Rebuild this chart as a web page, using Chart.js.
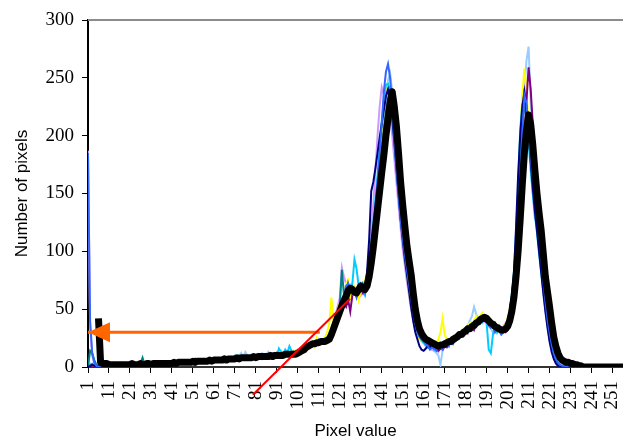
<!DOCTYPE html>
<html lang="en">
<head>
  <meta charset="UTF-8" />
  <title>Pixel value histogram</title>
  <style>
    body { margin:0; background:#fff; }
    #wrap { width:623px; height:446px; }
  </style>
  <script src="https://cdn.jsdelivr.net/npm/chart.js"></script>
</head>
<body>
  <div id="wrap"><canvas id="histChart" width="623" height="446"></canvas></div>

  <script>
    // pixel values 1..256 (categories)
    const pixelValues = Array.from({length: 256}, (_, i) => i + 1);
    const xTickLabels = [1,11,21,31,41,51,61,71,81,91,101,111,121,131,141,151,161,171,181,191,201,211,221,231,241,251];
    const yTickValues = [0,50,100,150,200,250,300];

    // average histogram (thick black)
    const average = [
      null,null,null,null,null,42,4,3,3,3,2,2,2,2,2,2,
      2,2,2,2,2,3,2,2,2,3,2,2,3,3,2,3,
      3,3,3,3,3,3,3,3,3,4,3,4,4,4,4,4,
      4,4,5,4,5,5,5,5,5,5,6,5,6,6,6,6,
      6,7,6,7,7,7,7,8,7,8,8,8,8,8,8,9,
      8,9,9,9,9,9,9,10,9,10,10,10,10,10,11,11,
      11,11,11,11,12,13,14,15,17,18,19,20,20,21,21,22,
      22,22,23,24,28,33,38,43,48,53,57,61,66,68,67,65,
      64,67,70,68,67,70,78,90,104,120,136,152,168,183,200,215,
      228,238,225,208,185,160,140,122,105,92,80,64,50,40,33,29,
      26,24,23,22,21,20,19,18,19,19,20,21,22,22,24,25,
      26,28,28,30,31,33,33,35,36,38,39,41,42,43,42,40,
      38,37,35,34,33,32,32,33,35,40,48,60,78,100,128,158,
      185,205,218,210,192,170,150,133,118,98,78,65,52,38,26,18,
      12,8,6,5,4,4,3,3,2,2,1,1,0,0,0,0,
      0,0,0,0,0,0,0,0,0,0,0,0,0,0,0,0
    ];

    // individual images
    const imgBlue = [
      185,40,12,4,1,0,1,2,2,3,2,2,1,2,3,2,
      2,1,2,3,2,2,3,2,1,2,3,2,2,3,3,2,
      3,2,3,4,3,2,3,3,4,3,4,5,3,4,4,3,
      4,5,4,5,6,4,5,4,6,5,6,4,7,6,5,7,
      6,8,5,7,8,6,7,9,6,8,7,9,8,7,9,8,
      9,8,10,7,9,10,8,11,9,10,12,9,8,11,10,13,
      12,10,13,11,14,12,15,16,15,19,18,21,19,22,20,23,
      21,24,22,25,30,36,40,47,52,58,62,70,72,66,63,67,
      60,66,72,69,64,74,85,100,118,140,160,185,210,238,255,262,
      250,225,200,175,150,128,112,98,85,72,60,48,38,30,26,24,
      22,20,18,15,17,16,14,18,17,15,19,21,18,23,20,24,
      26,25,29,27,32,30,34,33,37,35,40,38,44,41,39,36,
      34,36,30,33,31,28,30,35,38,45,55,72,95,125,160,200,
      235,228,205,180,165,155,140,118,95,75,58,42,30,20,12,7,
      4,2,1,1,0,0,0,0,0,0,0,0,0,0,0,0,
      0,0,0,0,0,0,0,0,0,0,0,0,0,0,0,0
    ];
    const imgPaleBlue = [
      0,3,2,1,1,0,2,1,2,2,3,1,2,2,1,3,
      2,2,3,1,2,3,2,3,2,2,1,3,2,2,4,3,
      2,3,4,3,2,4,3,4,3,5,4,3,4,5,4,5,
      3,5,6,5,4,6,5,7,5,6,5,7,6,8,7,6,
      7,6,8,7,9,8,10,7,9,12,8,13,10,9,11,10,
      9,11,10,12,9,11,13,10,12,11,13,12,14,11,13,12,
      10,13,12,14,13,16,15,18,17,20,19,18,22,20,24,21,
      23,22,26,25,29,34,41,46,50,56,64,68,65,70,62,68,
      66,70,64,72,68,73,80,95,112,130,150,172,195,215,232,248,
      254,238,215,190,160,135,118,100,88,76,62,50,40,32,27,25,
      23,21,19,17,15,14,12,10,2,14,17,19,22,20,25,24,
      27,29,31,28,34,36,40,44,52,46,42,40,38,43,39,35,
      33,30,34,31,35,29,32,36,40,44,56,70,92,122,160,205,
      240,265,277,230,195,165,140,120,98,78,60,44,30,19,11,6,
      3,2,1,0,0,0,0,0,0,0,0,0,0,0,0,0,
      0,0,0,0,0,0,0,0,0,0,0,0,0,0,0,0
    ];
    const imgYellow = [
      0,1,1,0,1,1,2,3,1,2,2,3,2,1,2,3,
      3,2,2,1,3,2,2,3,2,1,2,2,3,2,3,3,
      2,4,3,3,2,3,4,3,3,4,5,3,4,3,5,4,
      5,4,4,6,5,5,4,6,6,5,7,6,5,7,6,7,
      5,8,7,6,8,7,9,8,9,7,10,8,9,10,8,9,
      10,9,8,10,11,9,10,12,8,11,10,14,11,12,10,12,
      13,12,14,12,15,14,16,14,18,17,20,22,18,25,20,23,
      24,26,30,38,60,40,42,50,55,58,60,72,75,60,66,70,
      68,58,66,70,75,72,88,105,122,140,160,180,205,225,240,245,
      240,230,212,188,165,140,118,96,80,66,54,44,32,28,24,22,
      20,22,18,19,16,18,20,24,30,42,28,24,22,20,26,25,
      28,27,30,33,31,36,38,37,40,44,41,45,47,42,40,38,
      36,33,35,30,32,31,34,37,42,50,60,78,110,150,200,235,
      258,240,210,185,160,140,122,104,88,70,54,40,27,17,10,5,
      3,1,0,0,0,0,0,0,0,0,0,0,0,0,0,0,
      0,0,0,0,0,0,0,0,0,0,0,0,0,0,0,0
    ];
    const imgPurple = [
      0,0,1,1,0,1,2,1,2,2,1,3,2,2,2,1,
      2,3,2,2,1,2,3,2,2,3,2,2,2,3,2,2,
      3,3,2,3,4,3,3,2,4,3,3,4,4,5,3,4,
      4,4,5,4,5,6,5,5,4,6,5,6,6,5,7,6,
      6,7,6,8,6,7,8,7,8,7,9,7,8,9,8,9,
      8,10,9,8,10,9,11,9,10,11,9,10,12,10,11,10,
      11,12,10,12,11,13,14,16,16,17,18,19,21,20,23,21,
      22,21,24,23,26,30,36,42,46,50,55,52,58,48,62,64,
      62,65,68,64,70,68,76,88,102,118,134,150,166,182,198,214,
      225,236,230,215,190,170,148,128,110,94,80,66,52,40,32,26,
      24,22,20,18,17,16,15,14,16,15,18,17,20,21,23,22,
      24,26,27,29,31,33,36,35,32,37,38,41,40,42,41,39,
      37,36,38,34,35,33,31,30,32,36,44,56,72,95,125,160,
      195,230,259,240,210,185,160,138,120,100,82,66,50,36,24,16,
      10,6,4,2,1,0,0,0,0,0,0,0,0,0,0,0,
      0,0,0,0,0,0,0,0,0,0,0,0,0,0,0,0
    ];
    const imgLavender = [
      187,35,10,3,1,1,2,2,3,2,2,1,2,3,2,2,
      4,2,3,2,2,3,2,2,3,2,2,3,2,2,3,2,
      3,2,3,3,4,3,2,3,4,3,4,4,3,4,5,6,
      4,5,4,5,5,6,4,5,6,5,6,7,5,6,7,6,
      7,6,8,6,7,8,7,9,8,7,9,8,10,8,9,8,
      9,10,8,9,11,10,9,12,10,11,10,12,9,11,12,11,
      12,11,13,12,14,13,16,15,17,19,18,20,21,19,22,24,
      23,25,24,27,32,38,45,52,60,86,78,72,68,66,70,64,
      68,66,62,67,70,76,95,118,142,170,200,225,242,236,230,225,
      215,200,180,160,140,120,102,88,74,62,50,40,32,27,24,22,
      20,18,17,16,15,14,16,13,17,15,18,20,19,22,21,24,
      25,27,26,30,32,29,35,34,36,38,37,40,42,39,38,36,
      35,37,33,34,36,32,35,38,40,46,58,74,98,130,170,215,
      245,230,200,175,150,128,125,110,92,74,57,42,28,17,10,5,
      2,1,0,0,0,0,0,0,0,0,0,0,0,0,0,0,
      0,0,0,0,0,0,0,0,0,0,0,0,0,0,0,0
    ];
    const imgTeal = [
      0,14,12,6,2,1,2,2,1,2,3,2,2,1,2,2,
      3,2,2,2,3,2,2,3,2,3,8,2,3,2,2,3,
      3,2,3,2,4,3,3,4,2,3,4,3,4,4,3,4,
      5,4,4,5,4,5,6,5,5,6,5,6,7,6,5,7,
      6,7,7,8,6,8,7,8,7,9,8,8,9,8,10,9,
      9,8,10,9,10,11,9,10,11,10,9,12,11,10,12,11,
      12,11,12,13,14,13,15,16,18,17,20,19,22,21,23,22,
      24,23,25,24,29,34,39,45,52,84,62,58,72,66,70,68,
      66,70,67,72,68,74,82,98,115,132,150,168,186,204,220,232,
      240,228,210,188,162,140,120,104,90,78,64,52,41,34,28,25,
      23,20,18,19,17,16,18,17,16,18,19,20,22,21,23,24,
      25,27,28,30,30,32,33,35,37,36,40,42,43,41,40,38,
      36,34,35,33,32,30,33,35,38,48,62,75,102,135,175,212,
      227,215,200,180,160,140,122,104,86,70,54,40,28,18,11,6,
      3,1,0,0,0,0,0,0,0,0,0,0,0,0,0,0,
      0,0,0,0,0,0,0,0,0,0,0,0,0,0,0,0
    ];
    const imgSky = [
      0,2,3,2,1,1,2,1,2,3,2,2,1,2,2,3,
      2,2,3,2,2,2,3,2,2,2,3,2,3,2,2,3,
      3,3,2,4,3,3,3,4,3,3,4,4,3,5,4,4,
      4,5,5,4,6,5,5,6,5,5,6,6,7,6,6,5,
      7,6,7,8,7,7,8,7,10,8,8,9,8,9,10,8,
      9,9,10,8,10,9,11,9,10,12,10,16,13,11,15,12,
      18,14,12,13,15,14,16,17,16,18,21,20,19,22,23,24,
      22,24,23,26,28,34,40,44,50,55,60,63,68,70,72,93,
      85,70,72,66,62,75,90,108,125,145,165,190,212,230,244,245,
      235,215,195,172,150,130,112,96,82,68,56,46,36,30,26,23,
      21,19,17,16,18,15,17,16,18,17,19,22,20,24,22,25,
      27,26,30,29,32,35,33,38,36,40,38,41,39,41,38,15,
      12,28,36,30,34,32,31,34,40,48,62,82,115,155,205,227,
      230,218,195,170,150,132,116,98,82,66,50,36,24,15,9,5,
      2,1,0,0,0,0,0,0,0,0,0,0,0,0,0,0,
      0,0,0,0,0,0,0,0,0,0,0,0,0,0,0,0
    ];
    const imgNavy = [
      0,1,2,1,1,0,1,2,2,1,2,2,3,2,1,2,
      2,3,2,2,2,1,3,2,2,2,2,3,2,2,3,2,
      2,3,3,3,2,4,3,3,3,4,3,4,4,3,4,4,
      4,3,5,7,4,5,6,5,4,5,6,5,6,5,6,7,
      6,6,7,6,8,7,6,8,7,8,7,9,8,9,7,10,
      8,9,10,9,8,10,9,10,9,11,10,9,11,10,12,11,
      10,12,11,12,13,14,13,15,17,16,19,20,19,22,21,23,
      21,23,22,24,27,32,37,42,47,52,56,60,64,67,65,63,
      62,66,68,66,70,82,110,152,160,172,185,198,210,222,234,240,
      230,215,195,172,150,128,110,94,80,66,52,40,30,24,18,15,
      14,16,18,17,18,17,18,19,18,19,20,21,23,22,24,25,
      26,27,29,31,32,34,35,36,38,40,41,42,43,40,39,38,
      37,36,34,33,31,30,33,35,38,46,60,80,120,165,200,225,
      238,225,205,178,155,135,118,100,82,64,48,34,22,13,7,3,
      1,0,0,0,0,0,0,0,0,0,0,0,0,0,0,0,
      0,0,0,0,0,0,0,0,0,0,0,0,0,0,0,0
    ];

    // annotations (data coordinates)
    const arrowLine = [{x: 111.5, y: 30}, {x: 1, y: 30}];
    const redLine = [{x: 79.6, y: -24}, {x: 125.9, y: 59}];

    const thin = (data, color) => ({
      data, borderColor: color, borderWidth: 2, pointRadius: 0, fill: false, tension: 0
    });

    // arrow head + grey top border
    const extras = {
      id: 'extras',
      afterDatasetsDraw(chart) {
        const {ctx, chartArea, scales} = chart;
        const yTop = scales.y.getPixelForValue(300);
        ctx.save();
        ctx.strokeStyle = '#8c8c8c';
        ctx.lineWidth = 2;
        ctx.beginPath();
        ctx.moveTo(chartArea.left, yTop);
        ctx.lineTo(chart.width, yTop);
        ctx.stroke();

        const tx = scales.x.getPixelForValue(arrowLine[1].x);
        const ty = scales.y.getPixelForValue(arrowLine[1].y);
        ctx.fillStyle = '#ff6600';
        ctx.beginPath();
        ctx.moveTo(tx, ty);
        ctx.lineTo(tx + 22, ty - 10);
        ctx.lineTo(tx + 22, ty + 10);
        ctx.closePath();
        ctx.fill();
        ctx.restore();
      }
    };

    const ctx = document.getElementById('histChart').getContext('2d');
    new Chart(ctx, {
      type: 'line',
      data: {
        labels: pixelValues,
        datasets: [
          { data: redLine, borderColor: '#ff0000', borderWidth: 2, pointRadius: 0, clip: false },
          { data: arrowLine, borderColor: '#ff6600', borderWidth: 3, pointRadius: 0 },
          { data: average, borderColor: '#000000', borderWidth: 7, pointRadius: 0, borderJoinStyle: 'round', fill: false },
          thin(imgBlue, '#3366ff'),
          thin(imgNavy, '#000080'),
          thin(imgPurple, '#800080'),
          thin(imgTeal, '#008080'),
          thin(imgSky, '#00ccff'),
          thin(imgYellow, '#ffff00'),
          thin(imgLavender, '#cc99ff'),
          thin(imgPaleBlue, '#99ccff')
        ]
      },
      options: {
        responsive: false,
        animation: false,
        layout: { padding: { top: 20, right: 0, bottom: 0, left: 0 } },
        plugins: { legend: { display: false }, tooltip: { enabled: false } },
        scales: {
          x: {
            type: 'linear',
            min: 1, max: 256,
            afterBuildTicks: s => { s.ticks = xTickLabels.map(v => ({ value: v })); },
            afterFit: s => { s.height = 79; s.paddingRight = 0; s.paddingLeft = 0; },
            ticks: {
              autoSkip: false, maxRotation: 90, minRotation: 90, padding: 8,
              color: '#000', font: { family: 'Liberation Serif', size: 19 }
            },
            grid: { drawOnChartArea: false, drawTicks: true, tickLength: 6, color: '#000' },
            border: { color: '#333', width: 2 },
            title: {
              display: true, text: 'Pixel value', color: '#000',
              font: { family: 'Liberation Sans', size: 17 }, padding: { top: 0, bottom: 4 }
            }
          },
          y: {
            min: 0, max: 300,
            afterBuildTicks: s => { s.ticks = yTickValues.map(v => ({ value: v })); },
            afterFit: s => { s.width = 88; },
            ticks: { padding: 8, color: '#000', font: { family: 'Liberation Serif', size: 19 } },
            grid: { drawOnChartArea: false, drawTicks: true, tickLength: 6, color: '#000' },
            border: { color: '#000', width: 2 },
            title: {
              display: true, text: 'Number of pixels', color: '#000',
              font: { family: 'Liberation Sans', size: 17 }, padding: { top: 12, bottom: 0 }
            }
          }
        }
      },
      plugins: [extras]
    });
  </script>
</body>
</html>
